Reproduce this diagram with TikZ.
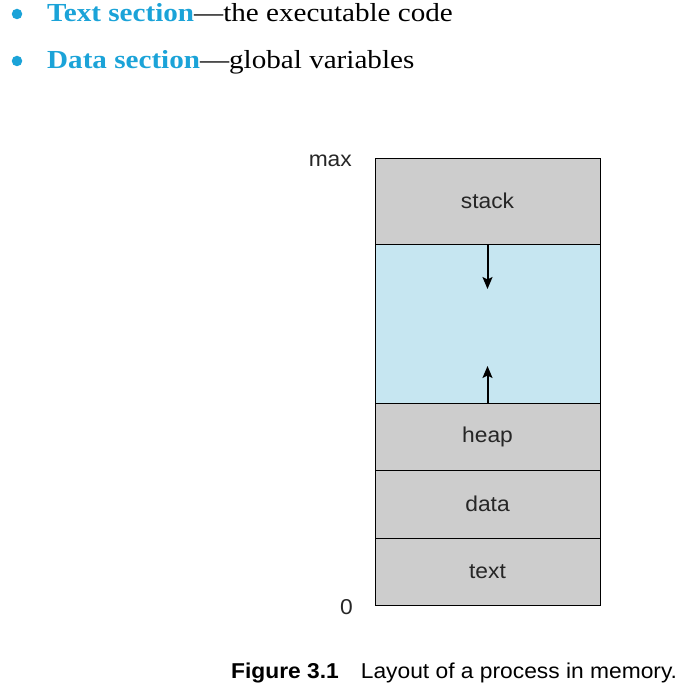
\documentclass[tikz,border=0pt]{standalone}
\usepackage{fontspec}
\setmainfont[FakeStretch=1.12]{Liberation Serif}
\newfontfamily\labfont[FakeStretch=1.06]{Liberation Sans}
\usetikzlibrary{arrows.meta}
\definecolor{secblue}{HTML}{1BA3D8}
\definecolor{memgray}{HTML}{CDCDCD}
\definecolor{memblue}{HTML}{C6E6F1}
\tikzset{
  seg/.style={draw=black, line width=0.8pt, minimum width=225pt, inner sep=0pt, outer sep=0pt, font=\labfont\fontsize{21.5}{26}\selectfont, text=black!85},
  graybox/.style={seg, fill=memgray},
  bluebox/.style={seg, fill=memblue},
  lab/.style={font=\labfont\fontsize{21.5}{26}\selectfont, text=black!85, inner sep=0pt},
  bulletline/.style={anchor=base west, inner sep=0pt, font=\fontsize{26}{30}\selectfont},
  growarrow/.style={-{Stealth[length=12pt,width=10pt,inset=2.5pt]}, line width=2pt, black},
  dot/.style={circle, fill=secblue, minimum size=10.5pt, inner sep=0pt}
}
\begin{document}
\begin{tikzpicture}[x=1pt,y=-1pt]
\useasboundingbox (0,0) rectangle (690,698);
% bullets
\node[dot] (b1) at (17,14) {};
\node[dot] (b2) at (17,61) {};
\node[bulletline] (t1) at (47,22) {\textcolor{secblue}{\bfseries Text section}---the executable code};
\node[bulletline] (t2) at (47,69) {\textcolor{secblue}{\bfseries Data section}---global variables};
% memory layout
\node[graybox, minimum height=86pt] (stack) at (487.5,201) {stack};
\node[bluebox, minimum height=159pt] (free) at (487.5,323.5) {};
\node[graybox, minimum height=67pt] (heap) at (487.5,436.5) {heap};
\node[graybox, minimum height=68pt] (data) at (487.5,504) {data};
\node[graybox, minimum height=67pt] (text) at (487.5,571.5) {text};
\coordinate (downend) at (487.5,289);
\coordinate (upend) at (487.5,366);
\draw[growarrow] (stack.south) -- (downend);
\draw[growarrow] (heap.north) -- (upend);
\node[lab, anchor=north east] (max) at (352,155) {max};
\node[lab, anchor=south east] (zero) at (353,615) {0};
% caption
\node[anchor=base west, inner sep=0pt, font=\labfont\fontsize{21.5}{26}\selectfont] (cap) at (231,678) {\textbf{Figure 3.1}\hspace{22pt}Layout of a process in memory.};
\end{tikzpicture}
\end{document}
